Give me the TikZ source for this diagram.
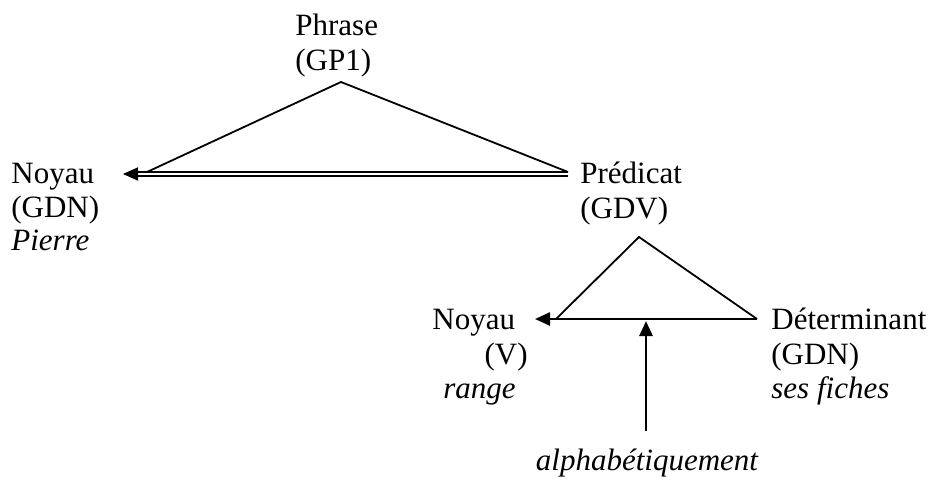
\documentclass[tikz,border=0pt]{standalone}
\usepackage{fontspec}
\setmainfont{Liberation Serif}
\usetikzlibrary{arrows.meta}
\begin{document}
\begin{tikzpicture}[x=0.5pt,y=-0.5pt,
  every node/.style={inner sep=0pt,font=\fontsize{15.5}{17}\selectfont},
  lbl/.style={anchor=base west},
  side/.style={line width=0.9pt},
  tip/.style={-{Triangle[length=7.5pt,width=6.5pt]}}]
	\useasboundingbox (0,0) rectangle (931,481);
	% labels
	\path
	(295,36) node[lbl] (phrase) {Phrase}
	(295,71) node[lbl] (gpun) {(GP1)}
	(11,184) node[lbl] (noyauA) {Noyau}
	(11,217) node[lbl] (gdnA) {(GDN)}
	(11,250) node[lbl] (pierre) {\itshape Pierre}
	(580,184) node[lbl] (predicat) {Prédicat}
	(580,218) node[lbl] (gdv) {(GDV)}
	(432,329) node[lbl] (noyauB) {Noyau}
	(528,364) node[anchor=base east] (verbe) {(V)}
	(443,398) node[lbl] (range) {\itshape range}
	(771,329) node[lbl] (determ) {Déterminant}
	(771,364) node[lbl] (gdnB) {(GDN)}
	(771,398) node[lbl] (fiches) {\itshape ses fiches}
	(647,470) node[anchor=base] (adverbe) {\itshape alphabétiquement}
	;
	% corners
	\path
	(341,82) coordinate (A)
	(147,172) coordinate (B)
	(568,172) coordinate (C)
	(568,174) coordinate (C1)
	(123,174) coordinate (B1)
	(639,237) coordinate (D)
	(556,319) coordinate (E)
	(757,319) coordinate (F)
	(535,319) coordinate (E1)
	(646,431) coordinate (G)
	(646,321) coordinate (H)
	;
	\draw[side] (B)--(A)--(C) (E)--(D)--(F);
	\draw[tip,line width=0.85pt,double,double distance=1.2pt] (C1)--(B1);
	\draw[tip,line width=1.2pt] (F)--(E1);
	\draw[tip,line width=1.4pt] (G)--(H);
\end{tikzpicture}
\end{document}
